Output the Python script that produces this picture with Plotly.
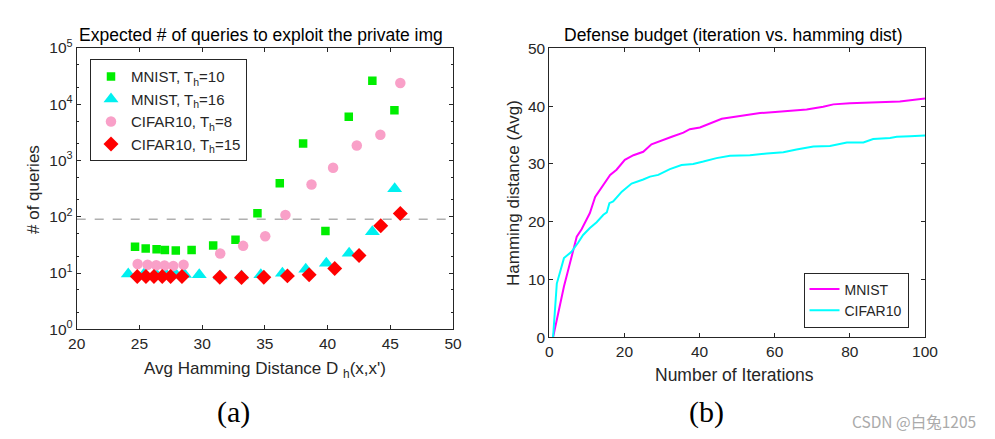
import plotly.graph_objects as go

# ---------------- data: panel (a) ----------------
mnist10_x = [24.65, 25.5, 26.37, 27.03, 27.9, 29.16, 30.88, 32.66, 34.41, 36.19, 38.05, 39.83, 41.69, 43.57, 45.33]
mnist10_y = [29.2, 27.2, 26.5, 25.8, 25.1, 25.8, 30.8, 38.9, 116, 396, 2000, 56, 6000, 26200, 7800]

mnist16_x = [24.11, 25.4, 26.3, 27.1, 27.9, 28.6, 29.77, 31.44, 33.14, 34.68, 36.4, 38.26, 39.9, 41.72, 43.57, 45.35]
mnist16_y = [9.66, 9.8, 9.7, 9.6, 9.5, 9.4, 9.3, 8.9, 8.9, 9.3, 9.9, 11.7, 14.9, 22.5, 54, 314]

cifar8_x = [24.86, 25.65, 26.34, 27.0, 27.7, 28.52, 31.44, 33.27, 35.03, 36.64, 38.72, 40.44, 42.33, 44.21, 45.8]
cifar8_y = [14.5, 14.0, 13.8, 13.6, 13.4, 14.0, 22.2, 30.4, 45.2, 108, 375, 742, 1850, 2870, 23800]

cifar15_x = [24.83, 25.52, 26.16, 26.82, 27.49, 28.39, 31.41, 33.14, 34.92, 36.8, 38.53, 40.57, 42.51, 44.24, 45.8]
cifar15_y = [8.65, 8.65, 8.65, 8.65, 8.65, 8.65, 8.4, 8.3, 8.4, 8.9, 9.3, 12.0, 20.5, 69, 114]

threshold = 90.6

# ---------------- data: panel (b) ----------------
iter_mnist = [1, 3.9, 6.4, 7.3, 8.6, 10.8, 12.2, 13.9, 16.2, 17.9, 20.1, 22.4, 25, 27.2, 29.9, 32.6, 35.7, 37.4,
              40.1, 42.8, 45.9, 49, 52.5, 56.1, 60.1, 64.1, 68.5, 72.9, 75.6, 80, 84.5, 88.9, 93.3, 100]
ham_mnist = [0, 8.8, 15.1, 17.4, 18.7, 21.5, 24.3, 26.0, 28.1, 29.0, 30.7, 31.5, 32.1, 33.4, 34.1, 34.7, 35.4, 36.0,
             36.3, 37.0, 37.8, 38.1, 38.5, 38.8, 39.0, 39.2, 39.4, 39.9, 40.3, 40.5, 40.6, 40.7, 40.8, 41.3]

iter_cifar = [1, 2, 3.9, 5.9, 7.7, 9, 10.8, 12.6, 14.4, 15.3, 16, 17, 19.3, 21.9, 25, 26.8, 29, 32.1, 35.2, 38.3,
              41, 44.5, 48.1, 53.4, 57.9, 62.3, 65.8, 70.3, 74.7, 79.2, 83.6, 86.2, 90.7, 92.5, 96, 100]
ham_cifar = [0, 9.3, 13.7, 14.8, 16.4, 17.7, 18.9, 19.9, 21.2, 21.6, 23.2, 23.5, 25.2, 26.6, 27.3, 27.8, 28.1, 29.1,
             29.8, 30.0, 30.4, 31.0, 31.4, 31.5, 31.8, 32.0, 32.5, 33.0, 33.1, 33.7, 33.7, 34.3, 34.5, 34.7, 34.8, 34.9]

log_tickvals = [1, 10, 100, 1000, 10000, 100000]
log_ticktext = ["10<sup>0</sup>", "10<sup>1</sup>", "10<sup>2</sup>", "10<sup>3</sup>", "10<sup>4</sup>", "10<sup>5</sup>"]

FONT = "Liberation Sans"
AX = "#262626"

fig = go.Figure()

fig.add_trace(go.Scatter(x=[20, 50], y=[threshold, threshold], mode="lines",
                         line=dict(color="#b0b0b0", width=1.5, dash="dash"),
                         showlegend=False, xaxis="x", yaxis="y", hoverinfo="skip"))
fig.add_trace(go.Scatter(x=mnist10_x, y=mnist10_y, mode="markers", name="MNIST, T<sub>h</sub>=10",
                         marker=dict(symbol="square", size=8.5, color="#00ee00"), xaxis="x", yaxis="y", legend="legend"))
fig.add_trace(go.Scatter(x=mnist16_x, y=mnist16_y, mode="markers", name="MNIST, T<sub>h</sub>=16",
                         marker=dict(symbol="triangle-up", size=13, color="#00f0f0"), xaxis="x", yaxis="y", legend="legend"))
fig.add_trace(go.Scatter(x=cifar8_x, y=cifar8_y, mode="markers", name="CIFAR10, T<sub>h</sub>=8",
                         marker=dict(symbol="circle", size=10.5, color="#f9a0c8"), xaxis="x", yaxis="y", legend="legend"))
fig.add_trace(go.Scatter(x=cifar15_x, y=cifar15_y, mode="markers", name="CIFAR10, T<sub>h</sub>=15",
                         marker=dict(symbol="diamond", size=11.5, color="#ff0000"), xaxis="x", yaxis="y", legend="legend"))

fig.add_trace(go.Scatter(x=iter_mnist, y=ham_mnist, mode="lines", name="MNIST",
                         line=dict(color="#ff00ff", width=2), xaxis="x2", yaxis="y2", legend="legend2"))
fig.add_trace(go.Scatter(x=iter_cifar, y=ham_cifar, mode="lines", name="CIFAR10",
                         line=dict(color="#00ffff", width=2), xaxis="x2", yaxis="y2", legend="legend2"))

H = 439.0
W = 995.0

def ax_common():
    return dict(showline=True, linecolor=AX, linewidth=1, mirror="ticks", ticks="inside",
                tickcolor=AX, ticklen=4, showgrid=False, zeroline=False, automargin=False,
                tickfont=dict(family=FONT, size=15.5, color=AX))

fig.update_layout(
    width=995, height=439, margin=dict(l=0, r=0, t=0, b=0, pad=0, autoexpand=False),
    paper_bgcolor="white", plot_bgcolor="white",
    font=dict(family=FONT, color=AX),
    xaxis=dict(domain=[76.7 / W, 453 / W], range=[20, 50], dtick=5, anchor="y", **ax_common()),
    yaxis=dict(domain=[(H - 329.3) / H, (H - 48) / H], type="log", range=[0, 5],
               tickvals=log_tickvals, ticktext=log_ticktext, anchor="x",
               minor=dict(ticks="inside", ticklen=2, tickcolor=AX, showgrid=False), **ax_common()),
    xaxis2=dict(domain=[549.3 / W, 925 / W], range=[0, 100], dtick=20, anchor="y2", **ax_common()),
    yaxis2=dict(domain=[(H - 337.3) / H, (H - 48.3) / H], range=[0, 50], dtick=10, anchor="x2", **ax_common()),
    legend=dict(x=90 / W, y=(H - 59.3) / H, xanchor="left", yanchor="top",
                bgcolor="white", bordercolor=AX, borderwidth=1,
                font=dict(family=FONT, size=15, color=AX), tracegroupgap=0, itemsizing="trace"),
    legend2=dict(x=856 / W, y=(H - 300) / H, xanchor="center", yanchor="middle",
                 bgcolor="white", bordercolor=AX, borderwidth=1, itemwidth=30,
                 font=dict(family=FONT, size=14, color=AX), tracegroupgap=0),
    showlegend=True,
)

annotations = [
    dict(text="Expected # of queries to exploit the private img", x=261 / W, y=(H - 35) / H,
         font=dict(family=FONT, size=17.5, color="black")),
    dict(text="Defense budget (iteration vs. hamming dist)", x=733 / W, y=(H - 35) / H,
         font=dict(family=FONT, size=17.5, color="black")),
    dict(text="Avg Hamming Distance D <sub>h</sub>(x,x')", x=265 / W, y=(H - 370) / H,
         font=dict(family=FONT, size=17, color=AX)),
    dict(text="Number of Iterations", x=734 / W, y=(H - 375) / H,
         font=dict(family=FONT, size=17.5, color=AX)),
    dict(text="# of queries", x=33 / W, y=(H - 190) / H, textangle=-90,
         font=dict(family=FONT, size=17, color=AX)),
    dict(text="Hamming distance (Avg)", x=513 / W, y=(H - 193) / H, textangle=-90,
         font=dict(family=FONT, size=17, color=AX)),
    dict(text="(a)", x=233 / W, y=(H - 412) / H, font=dict(family="Liberation Serif", size=30, color="black")),
    dict(text="(b)", x=706 / W, y=(H - 412) / H, font=dict(family="Liberation Serif", size=30, color="black")),
    dict(text="CSDN @白兔1205", x=978 / W, y=(H - 421) / H, xanchor="right",
         font=dict(family="Noto Sans CJK SC", size=15.5, color="#aaaaaa")),
]
for a in annotations:
    a.setdefault("xanchor", "center")
    a.update(xref="paper", yref="paper", yanchor="middle", showarrow=False)
fig.update_layout(annotations=annotations)

fig.write_html("out.html")
